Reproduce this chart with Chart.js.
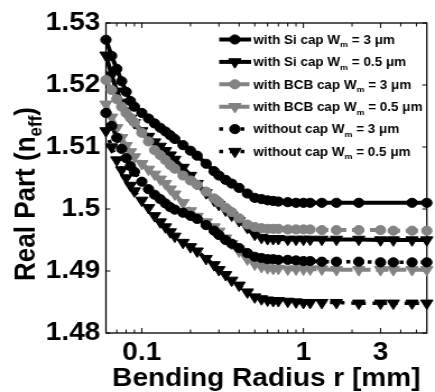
<!DOCTYPE html>
<html><head><meta charset="utf-8">
<script src="https://cdn.jsdelivr.net/npm/chart.js@4"></script>
<style>
html,body{margin:0;padding:0;background:#fff;overflow:hidden;width:435px;height:392px;}
#wrap{position:absolute;left:0;top:0;width:388px;height:392px;transform:scaleX(1.1211);transform-origin:0 0;}
</style></head><body>
<div id="wrap"><canvas id="c"></canvas></div>
<script>
// ---- data ----
const radii = [0.06,0.065,0.07,0.075,0.08,0.085,0.09,0.1,0.11,0.12,0.13,0.14,0.15,0.16,0.18,0.2,0.22,0.25,0.28,0.3,0.33,0.36,0.4,0.45,0.5,0.55,0.6,0.65,0.7,0.8,0.9,1.0,1.1,1.3,1.6,2.2,3.0,3.6,4.7,5.8];
const siCap3 = [1.5273,1.5247,1.5226,1.5206,1.5189,1.5174,1.5165,1.5155,1.5146,1.5138,1.5131,1.5125,1.5119,1.5113,1.5103,1.5094,1.5086,1.5073,1.5061,1.5054,1.5047,1.5041,1.5034,1.5025,1.5018,1.5016,1.5014,1.5013,1.5012,1.5011,1.5010,1.5010,1.5010,1.5010,1.5010,1.5010,null,null,1.5010,1.5010];
const siCap05 = [1.5248,1.5216,1.5190,1.5172,1.5158,1.5146,1.5139,1.5126,1.5117,1.5108,1.5101,1.5094,1.5087,1.5080,1.5067,1.5054,1.5041,1.5026,1.5014,1.5007,1.4998,1.4990,1.4981,1.4970,1.4959,1.4954,1.4952,1.4952,1.4952,1.4951,1.4951,1.4951,1.4951,1.4951,1.4951,1.4951,1.4950,1.4950,1.4950,1.4950];
const bcbCap3 = [1.5208,1.5192,1.5177,1.5165,1.5155,1.5147,1.5140,1.5123,1.5109,1.5095,1.5087,1.5079,1.5071,1.5065,1.5054,1.5046,1.5039,1.5028,1.5017,1.5011,1.5002,1.4995,1.4985,1.4975,1.4971,1.4969,1.4968,1.4968,1.4968,1.4967,1.4967,1.4967,1.4967,1.4966,1.4966,1.4966,1.4966,1.4965,1.4965,1.4965];
const bcbCap05 = [1.5169,1.5148,1.5131,1.5115,1.5102,1.5092,1.5084,1.5073,1.5064,1.5056,1.5048,1.5041,1.5032,1.5024,1.5010,1.4997,1.4988,1.4979,1.4971,1.4964,1.4953,1.4944,1.4932,1.4919,1.4911,1.4907,1.4905,1.4904,1.4904,1.4903,1.4903,1.4903,1.4903,1.4903,1.4902,1.4902,1.4902,1.4902,1.4902,1.4902];
const noCap3 = [1.5155,1.5134,1.5115,1.5097,1.5082,1.5069,1.5060,1.5044,1.5032,1.5023,1.5016,1.5009,1.5003,1.4999,1.4994,1.4989,1.4984,1.4974,1.4965,1.4958,1.4950,1.4944,1.4937,1.4929,1.4923,1.4921,1.4919,1.4919,1.4918,1.4918,1.4917,1.4916,1.4916,1.4915,1.4915,1.4915,1.4914,1.4914,1.4914,1.4914];
const noCap05 = [1.5126,1.5100,1.5079,1.5063,1.5050,1.5038,1.5029,1.5014,1.5002,1.4989,1.4979,1.4971,1.4963,1.4956,1.4946,1.4939,1.4932,1.4920,1.4910,1.4902,1.4894,1.4885,1.4877,1.4866,1.4858,1.4855,1.4853,1.4852,1.4852,1.4851,1.4850,1.4849,1.4849,1.4849,1.4849,1.4848,1.4848,1.4848,1.4848,1.4848];
const legendLabels = [
  ["with Si cap W","m"," = 3 \u03bcm"],
  ["with Si cap W","m"," = 0.5 \u03bcm"],
  ["with BCB cap W","m"," = 3 \u03bcm"],
  ["with BCB cap W","m"," = 0.5 \u03bcm"],
  ["without cap W","m"," = 3 \u03bcm"],
  ["without cap W","m"," = 0.5 \u03bcm"]
];
const xTicks = [0.1, 1, 3];
const xMinorTicks = [0.07,0.08,0.09,0.1,0.2,0.3,0.4,0.5,0.6,0.7,0.8,0.9,1,2,3,4,5];
const yTicks = [1.48,1.49,1.5,1.51,1.52,1.53];
const xTitle = "Bending Radius r [mm]";
const yTitleParts = ["Real Part (n","eff",")"];

// ---- styles ----
const FONT = "'Liberation Sans', Arial, Helvetica, sans-serif";
const GRAY = '#838383';
const seriesValues = [siCap3, siCap05, bcbCap3, bcbCap05, noCap3, noCap05];
const styles = [
  {color:'#000', dash:[], width:4, ps:'circle', r:4.6, rot:0},
  {color:'#000', dash:[], width:4, ps:'triangle', r:6.3, rot:180},
  {color:GRAY, dash:[11,5], width:4, ps:'circle', r:4.6, rot:0},
  {color:GRAY, dash:[11,5], width:4, ps:'triangle', r:6.3, rot:180},
  {color:'#000', dash:[3.5,6], width:3.5, ps:'circle', r:4.6, rot:0},
  {color:'#000', dash:[3.5,6], width:3.5, ps:'triangle', r:6.3, rot:180}
];

const datasets = seriesValues.map((vals,i)=>({
  label: legendLabels[i].join(''),
  data: radii.map((r,j)=>({x:r, y:vals[j]})),
  borderColor: styles[i].color,
  backgroundColor: styles[i].color,
  borderWidth: styles[i].width,
  borderDash: styles[i].dash,
  borderCapStyle: 'butt',
  pointStyle: styles[i].ps,
  pointRadius: styles[i].r,
  pointRotation: styles[i].rot,
  pointBackgroundColor: styles[i].color,
  pointBorderColor: styles[i].color,
  pointBorderWidth: 1,
  tension: 0,
  spanGaps: true,
  clip: false,
  order: 6 - i
}));

function seg(ctx,x1,y1,x2,y2){ctx.beginPath();ctx.moveTo(x1,y1);ctx.lineTo(x2,y2);ctx.stroke();}

const framePlugin = {
  id:'frame',
  beforeDatasetsDraw(chart){
    const {ctx, chartArea:a, scales:{x,y}} = chart;
    ctx.save();
    ctx.strokeStyle='#000';
    ctx.lineWidth=1.3;
    ctx.setLineDash([]);
    ctx.strokeRect(a.left, a.top, a.right-a.left, a.bottom-a.top);
    ctx.lineWidth=1;
    xMinorTicks.forEach(v=>{
      const px = x.getPixelForValue(v);
      const len = xTicks.includes(v) ? 5 : 3.5;
      seg(ctx,px,a.bottom,px,a.bottom-len);
      seg(ctx,px,a.top,px,a.top+len);
    });
    yTicks.forEach(v=>{
      const py = y.getPixelForValue(v);
      seg(ctx,a.left,py,a.left+4,py);
      seg(ctx,a.right,py,a.right-4,py);
    });
    ctx.restore();
  },
  afterDraw(chart){
    const {ctx, chartArea:a} = chart;
    ctx.save();
    ctx.fillStyle='#000';
    // x title
    ctx.font = `bold 25px ${FONT}`;
    ctx.textAlign='center';
    ctx.textBaseline='alphabetic';
    ctx.fillText(xTitle, (a.left+a.right)/2, 386);
    // y title (rotated with subscript)
    const mainF = `bold 26px ${FONT}`, subF = `bold 17px ${FONT}`;
    ctx.font = mainF; const w0 = ctx.measureText(yTitleParts[0]).width, w2 = ctx.measureText(yTitleParts[2]).width;
    ctx.font = subF; const w1 = ctx.measureText(yTitleParts[1]).width;
    const total = w0+w1+w2;
    ctx.translate(31, 194);
    ctx.rotate(-Math.PI/2);
    ctx.textAlign='left';
    let cx = -total/2;
    ctx.font = mainF; ctx.fillText(yTitleParts[0], cx, 0); cx += w0;
    ctx.font = subF; ctx.fillText(yTitleParts[1], cx, 6); cx += w1;
    ctx.font = mainF; ctx.fillText(yTitleParts[2], cx, 0);
    ctx.restore();

    // legend
    ctx.save();
    const x0 = 195.5, x1 = 224, xm = 209.5, xt = 226;
    legendLabels.forEach((lab,i)=>{
      const st = styles[i];
      const yy = 39.5 + i*22.4;
      ctx.strokeStyle = st.color; ctx.fillStyle = st.color;
      ctx.lineWidth = st.width; ctx.setLineDash(st.dash); ctx.lineCap='butt';
      seg(ctx,x0,yy,x1,yy);
      ctx.setLineDash([]);
      ctx.lineWidth = 1;
      Chart.helpers.drawPoint(ctx,{pointStyle:st.ps, radius:st.r, rotation:st.rot, borderWidth:1}, xm, yy);
      ctx.fillStyle='#000';
      ctx.textAlign='left'; ctx.textBaseline='alphabetic';
      let tx = xt; const base = yy+4.3;
      ctx.font = `bold 12px ${FONT}`; ctx.fillText(lab[0], tx, base); tx += ctx.measureText(lab[0]).width;
      ctx.font = `bold 8px ${FONT}`; ctx.fillText(lab[1], tx, base+3.5); tx += ctx.measureText(lab[1]).width;
      ctx.font = `bold 12px ${FONT}`; ctx.fillText(lab[2], tx, base);
    });
    ctx.restore();
  }
};

new Chart(document.getElementById('c'), {
  type:'line',
  data:{datasets},
  options:{
    animation:false,
    responsive:true,
    maintainAspectRatio:false,
    layout:{padding:{top:23,right:2,left:0,bottom:0}},
    plugins:{legend:{display:false},tooltip:{enabled:false}},
    scales:{
      x:{
        type:'logarithmic', min:0.06, max:5.8,
        grid:{display:false, drawTicks:false}, border:{display:false},
        ticks:{font:{family:FONT,size:25,weight:'bold'}, color:'#000', padding:5, maxRotation:0, autoSkip:false,
          callback:(v)=>String(v)},
        afterBuildTicks:(s)=>{ s.ticks = xTicks.map(v=>({value:v})); },
        afterFit:(s)=>{ s.height = 59; }
      },
      y:{
        type:'linear', min:1.48, max:1.53,
        grid:{display:false, drawTicks:false}, border:{display:false},
        ticks:{font:{family:FONT,size:25,weight:'bold'}, color:'#000', padding:5,
          callback:(v)=>String(v)},
        afterBuildTicks:(s)=>{ s.ticks = yTicks.map(v=>({value:v})); },
        afterFit:(s)=>{ s.width = 94.5; }
      }
    }
  },
  plugins:[framePlugin]
});
</script>
</body></html>
